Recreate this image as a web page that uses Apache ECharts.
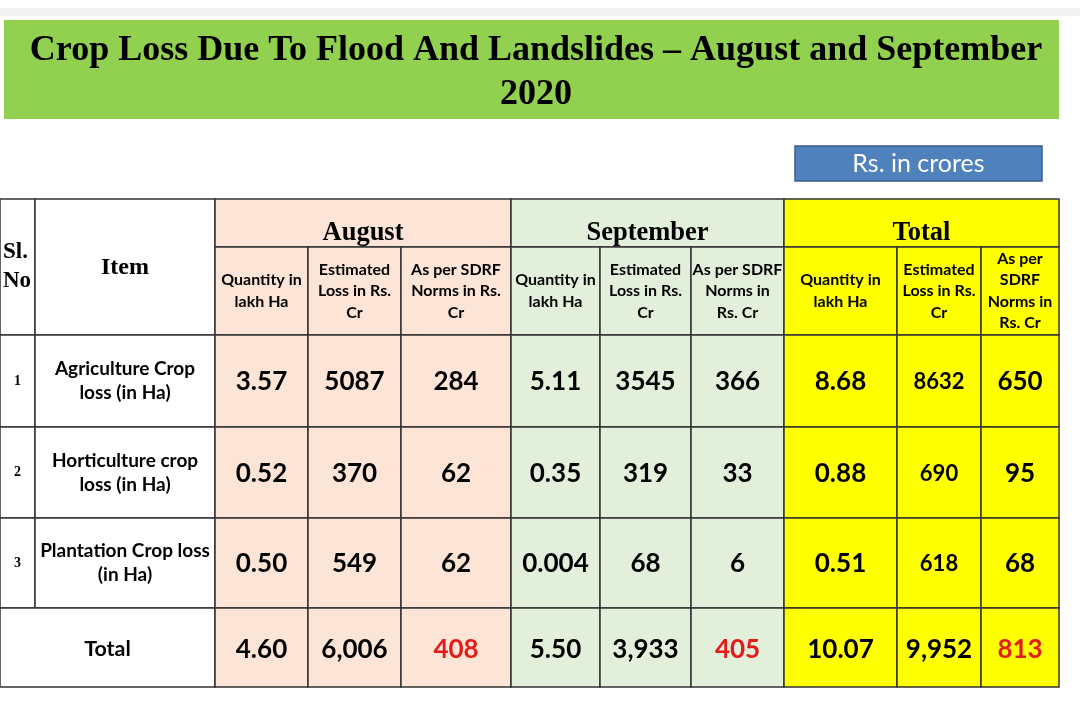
<!DOCTYPE html>
<html>
<head>
<meta charset="utf-8">
<script src="https://cdn.jsdelivr.net/npm/echarts@6/dist/echarts.min.js"></script>
<style>
html,body{margin:0;padding:0;background:#fff;}
#chart{width:1080px;height:721px;}
</style>
</head>
<body>
<div id="chart"></div>
<script>
// ---------- data ----------
const chartTitle = 'Crop Loss Due To Flood And Landslides \u2013 August and September\n2020';
const unitNote = 'Rs. in crores';
const monthGroups = ['August', 'September', 'Total'];
const subHeaders = [
  'Quantity in\nlakh Ha', 'Estimated\nLoss in Rs.\nCr', 'As per SDRF\nNorms in Rs.\nCr',
  'Quantity in\nlakh Ha', 'Estimated\nLoss in Rs.\nCr', 'As per SDRF\nNorms in\nRs. Cr',
  'Quantity in\nlakh Ha', 'Estimated\nLoss in Rs.\nCr', 'As per\nSDRF\nNorms in\nRs. Cr'
];
const serialNumbers = ['1', '2', '3'];
const items = ['Agriculture Crop\nloss (in Ha)', 'Horticulture crop\nloss (in Ha)', 'Plantation Crop loss\n(in Ha)'];
const totalLabel = 'Total';
// last entry of each array is the Total row
const augustQty = [3.57, 0.52, 0.50, 4.60];
const augustLoss = [5087, 370, 549, 6006];
const augustSdrf = [284, 62, 62, 408];
const septemberQty = [5.11, 0.35, 0.004, 5.50];
const septemberLoss = [3545, 319, 68, 3933];
const septemberSdrf = [366, 33, 6, 405];
const totalQty = [8.68, 0.88, 0.51, 10.07];
const totalLoss = [8632, 690, 618, 9952];
const totalSdrf = [650, 95, 68, 813];

// ---------- layout ----------
const colEdges = [0, 35, 215, 308, 401, 511, 600, 691, 784, 897, 981, 1059];
const rowEdges = [199, 247, 335, 427, 518, 608, 687];
const groupFill = ['#FCE4D6', '#E2EFDA', '#FFFF00'];
const SERIF = '"Liberation Serif", "Times New Roman", serif';
const SANS = 'Lato, "Open Sans", sans-serif';

function fmtQty(v) { return v < 0.01 ? v.toFixed(3) : v.toFixed(2); }
function fmtLoss(v, isTotal) { return isTotal ? v.toLocaleString('en-US') : String(v); }

const valueCols = [
  { vals: augustQty, kind: 'qty' }, { vals: augustLoss, kind: 'loss' }, { vals: augustSdrf, kind: 'sdrf' },
  { vals: septemberQty, kind: 'qty' }, { vals: septemberLoss, kind: 'loss' }, { vals: septemberSdrf, kind: 'sdrf' },
  { vals: totalQty, kind: 'qty' }, { vals: totalLoss, kind: 'loss', small: true }, { vals: totalSdrf, kind: 'sdrf' }
];

const cells = [];
function addCell(c0, c1, r0, r1, text, opt) {
  cells.push(Object.assign({ c0, c1, r0, r1, text, fill: '#ffffff', font: 'bold 16px ' + SANS, color: '#000', align: 'center', dy: 0, lh: 20 }, opt || {}));
}
// header
addCell(0, 1, 0, 2, 'Sl.\nNo', { font: 'bold 23px ' + SERIF, align: 'left', lh: 29, dy: 0 });
addCell(1, 2, 0, 2, 'Item', { font: 'bold 24px ' + SERIF, dy: 1 });
monthGroups.forEach((g, i) => {
  addCell(2 + 3 * i, 5 + 3 * i, 0, 1, g, { fill: groupFill[i], font: 'bold 26.5px ' + SERIF, dy: 10 });
});
subHeaders.forEach((s, i) => {
  addCell(2 + i, 3 + i, 1, 2, s, { fill: groupFill[Math.floor(i / 3)], font: 'bold 16px ' + SANS, lh: 21.5 });
});
// body rows
items.forEach((it, r) => {
  addCell(0, 1, 2 + r, 3 + r, serialNumbers[r], { font: 'bold 14px ' + SERIF });
  addCell(1, 2, 2 + r, 3 + r, it, { font: 'bold 19px ' + SANS, lh: 24 });
});
addCell(0, 2, 5, 6, totalLabel, { font: 'bold 21.5px ' + SANS, dy: 2 });
for (let r = 0; r < 4; r++) {
  valueCols.forEach((col, i) => {
    const isTotal = r === 3;
    const v = col.vals[r];
    const txt = col.kind === 'qty' ? fmtQty(v) : col.kind === 'loss' ? fmtLoss(v, isTotal) : String(v);
    const red = isTotal && col.kind === 'sdrf';
    const size = (col.small && !isTotal) ? 22 : 26;
    addCell(2 + i, 3 + i, 2 + r, 3 + r, txt, {
      fill: groupFill[Math.floor(i / 3)],
      font: 'bold ' + size + 'px ' + SANS,
      color: red ? '#E41B1B' : '#000',
      dy: isTotal ? 2 : 1
    });
  });
}

const cellData = cells.map(c => [colEdges[c.c0], rowEdges[c.r0], colEdges[c.c1], rowEdges[c.r1]]);

function renderItem(params, api) {
  const c = cells[params.dataIndex];
  const p0 = api.coord([api.value(0), api.value(1)]);
  const p1 = api.coord([api.value(2), api.value(3)]);
  const x = Math.min(p0[0], p1[0]), y = Math.min(p0[1], p1[1]);
  const w = Math.abs(p1[0] - p0[0]), h = Math.abs(p1[1] - p0[1]);
  const tx = c.align === 'left' ? x + 3 : x + w / 2;
  return {
    type: 'group',
    children: [
      { type: 'rect', shape: { x, y, width: w, height: h },
        style: { fill: c.fill, stroke: '#333333', lineWidth: 1.5 } },
      { type: 'text', z2: 10,
        style: { text: c.text, x: tx, y: y + h / 2 + c.dy,
          align: c.align, textAlign: c.align, verticalAlign: 'middle', textVerticalAlign: 'middle',
          font: c.font, fill: c.color, lineHeight: c.lh } }
    ]
  };
}

const chart = echarts.init(document.getElementById('chart'), null, { renderer: 'canvas' });
chart.setOption({
  backgroundColor: '#ffffff',
  animation: false,
  title: {
    text: chartTitle,
    left: 531, top: 24, textAlign: 'center',
    textStyle: { fontFamily: SERIF, fontWeight: 'bold', fontSize: 36, lineHeight: 44, color: '#000' }
  },
  graphic: [
    { type: 'rect', z: -1, shape: { x: 0, y: 8, width: 1080, height: 8 }, style: { fill: '#F3F3F3' } },
    { type: 'rect', z: -1, shape: { x: 4, y: 20, width: 1055, height: 99 }, style: { fill: '#92D050' } },
    { type: 'group', children: [
      { type: 'rect', shape: { x: 795, y: 146, width: 247, height: 35 }, style: { fill: '#4F81BD', stroke: '#385D8A', lineWidth: 1.5 } },
      { type: 'text', style: { text: unitNote, x: 918.5, y: 164, align: 'center', textAlign: 'center', verticalAlign: 'middle', textVerticalAlign: 'middle', font: '25px ' + SANS, fill: '#fff' } }
    ] }
  ],
  grid: { left: 0, right: 0, top: 0, bottom: 0 },
  xAxis: { type: 'value', min: 0, max: 1080, show: false },
  yAxis: { type: 'value', min: 0, max: 721, inverse: true, show: false },
  series: [{
    type: 'custom',
    renderItem,
    data: cellData,
    encode: { x: [0, 2], y: [1, 3] },
    clip: false
  }]
});
</script>
</body>
</html>
